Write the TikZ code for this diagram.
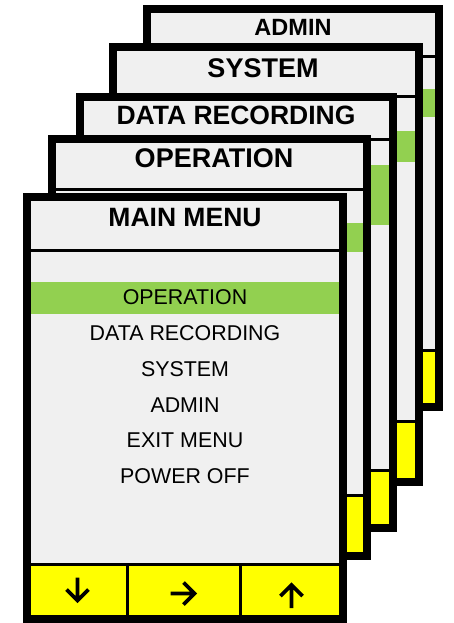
\documentclass[tikz,border=0pt]{standalone}
\usepackage{fontspec}
\setmainfont{Liberation Sans}
\definecolor{scr}{RGB}{240,240,240}
\definecolor{hl}{RGB}{146,208,80}
\definecolor{btn}{RGB}{255,255,0}
\newcommand\drawscreen[8]{%
  \fill[scr] (#1,#2) rectangle (#3,#4);
  \fill[hl] (#1,#6) rectangle (#3,#7);
  \fill[btn] (#1,#8) rectangle (#3,#4);
  \draw[sepline] (#1,#5) -- (#3,#5);
  \draw[sepline] (#1,#8) -- (#3,#8);
  \draw[frame] (#1+4,#2+4) rectangle (#3-4,#4-4);
}
\begin{document}
\begin{tikzpicture}[x=1pt,y=-1pt,
  frame/.style={draw=black,line width=8pt},
  sepline/.style={draw=black,line width=3pt},
  ttl/.style={inner sep=0pt,font=\bfseries\fontsize{27}{32}\selectfont},
  item/.style={inner sep=0pt,font=\fontsize{21.4}{25}\selectfont},
  arrowicon/.style={draw=black,line width=3.6pt,line join=miter}]
\useasboundingbox (0,0) rectangle (454,623);
% ADMIN
\drawscreen{143}{5}{443}{411}{57}{89}{117}{350}
\node[ttl,font=\bfseries\fontsize{23.5}{28}\selectfont] (tadmin) at (293,27) {ADMIN};
% SYSTEM
\drawscreen{109}{43}{423}{486}{97}{131}{162}{421}
\node[ttl] (tsystem) at (263,68) {SYSTEM};
% DATA RECORDING
\drawscreen{76}{93}{397}{532}{139}{165}{225}{470}
\node[ttl,font=\bfseries\fontsize{26.5}{31}\selectfont] (tdata) at (236,115.5) {DATA RECORDING};
% OPERATION
\drawscreen{48}{135}{371}{560}{189}{223}{252}{495}
\node[ttl] (toper) at (214,158) {OPERATION};
% MAIN MENU
\drawscreen{23}{193}{347}{623}{250}{282}{314}{564}
\node[ttl,font=\bfseries\fontsize{26.5}{31}\selectfont] (tmain) at (185,218) {MAIN MENU};
\node[item] (m1) at (185,297) {OPERATION};
\node[item] (m2) at (185,333.5) {DATA RECORDING};
\node[item] (m3) at (185,369.5) {SYSTEM};
\node[item] (m4) at (185,405) {ADMIN};
\node[item] (m5) at (185,440.5) {EXIT MENU};
\node[item] (m6) at (185,476) {POWER OFF};
\draw[sepline] (127,564) -- (127,619);
\draw[sepline] (240,564) -- (240,619);
% button icons
\coordinate (bdown) at (77.5,590.5);
\coordinate (bright) at (183.5,593.5);
\coordinate (bup) at (291.5,595);
\draw[arrowicon,shift={(bdown)}] (0,-13) -- (0,10) (-11,-1) -- (0,10) -- (11,-1);
\draw[arrowicon,shift={(bright)}] (-13,0) -- (11,0) (0,-11) -- (11,0) -- (0,11);
\draw[arrowicon,shift={(bup)}] (0,13) -- (0,-10) (-11,1) -- (0,-10) -- (11,1);
\end{tikzpicture}
\end{document}
